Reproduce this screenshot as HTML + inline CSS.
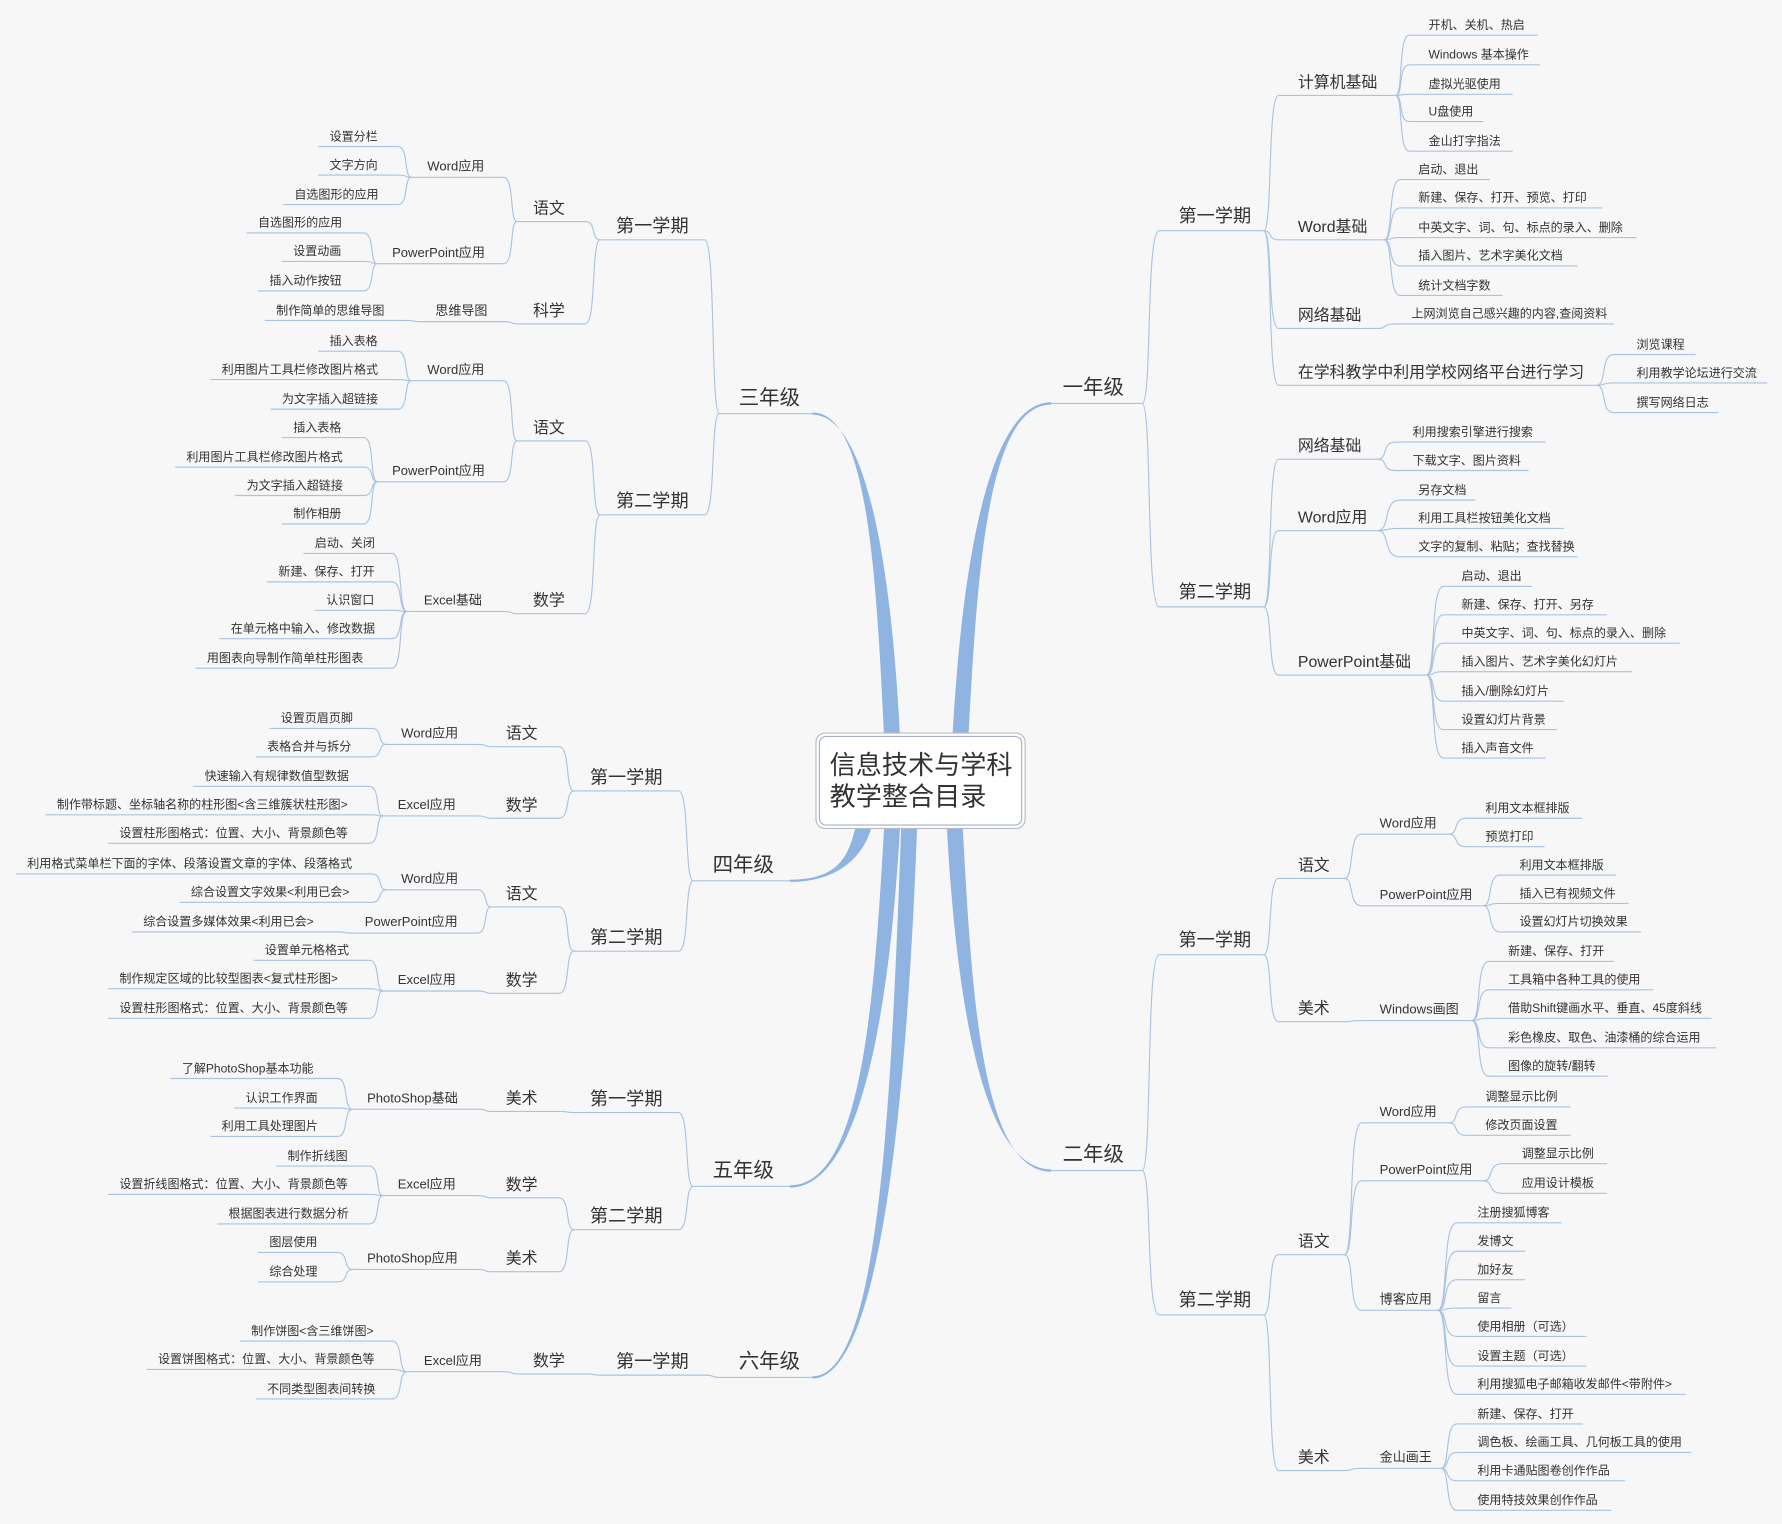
<!DOCTYPE html>
<html><head><meta charset="utf-8"><style>
html,body{margin:0;padding:0;background:#f7f7f7}
svg{display:block}
text{font-family:"Liberation Sans","Noto Sans CJK SC",sans-serif;fill:#333;dominant-baseline:central}
.t0{font-size:23px}.t1{font-size:18px}.t2{font-size:16px}.t3{font-size:14px}.t4{font-size:11.5px}.t5{font-size:10.6px}
.l path{fill:none;stroke:#a9c3e2;stroke-width:1}
</style></head><body>
<svg width="1782" height="1524" viewBox="0 0 1568 1341" xmlns="http://www.w3.org/2000/svg">
<rect width="1568" height="1341" fill="#f7f7f7"/>
<g fill="#8fb4e2">
<path d="M838,650 C846,502 869,354 925,354 L925,356 C869,356 860,502 852,650Z"/>
<path d="M833,725 C841,877 864,1029 925,1029 L925,1031 C864,1031 855,877 847,725Z"/>
<path d="M778,650 C771,507 764,363 715,363 L715,365 C764,365 785,507 792,650Z"/>
<path d="M753,727 C747,751 740,774 695,774 L695,776 C740,776 761,751 767,727Z"/>
<path d="M778,727 C769,885 758,1043 695,1043 L695,1045 C758,1045 783,885 792,727Z"/>
<path d="M793,727 C784,970 774,1211 715,1211 L715,1213 C774,1213 798,970 807,727Z"/>
</g>
<g class="l">
<path d="M925,355 H1005 M633,364 H715 M610,775 H695 M610,1044 H695 M633,1212 H715 M925,1030 H1005"/>
<path d="M1005,355 C1014,355 1008,203 1020,203 H1112"/>
<path d="M1005,355 C1014,355 1008,534 1020,534 H1112"/>
<path d="M1112,203 C1120,203 1115,84 1125,84 H1228"/>
<path d="M1112,203 C1120,203 1115,211 1125,211 H1218"/>
<path d="M1112,203 C1120,203 1115,289 1125,289 H1212"/>
<path d="M1112,203 C1120,203 1115,339 1125,339 H1405"/>
<path d="M1228,84 C1235,84 1230,31 1240,31 H1353"/>
<path d="M1228,84 C1235,84 1230,57 1240,57 H1355"/>
<path d="M1228,84 C1235,84 1230,83 1240,83 H1331"/>
<path d="M1228,84 C1235,84 1230,107 1240,107 H1305"/>
<path d="M1228,84 C1235,84 1230,133 1240,133 H1331"/>
<path d="M1218,211 C1226,211 1221,158 1232,158 H1311"/>
<path d="M1218,211 C1226,211 1221,183 1232,183 H1410"/>
<path d="M1218,211 C1226,211 1221,209 1232,209 H1440"/>
<path d="M1218,211 C1226,211 1221,234 1232,234 H1388"/>
<path d="M1218,211 C1226,211 1221,260 1232,260 H1322"/>
<path d="M1212,289 C1222,289 1215,285 1228,285 H1420"/>
<path d="M1405,339 C1414,339 1408,312 1420,312 H1492"/>
<path d="M1405,339 C1414,339 1408,337 1420,337 H1555"/>
<path d="M1405,339 C1414,339 1408,363 1420,363 H1512"/>
<path d="M1112,534 C1120,534 1115,404 1125,404 H1212"/>
<path d="M1112,534 C1120,534 1115,467 1125,467 H1212"/>
<path d="M1112,534 C1120,534 1115,594 1125,594 H1255"/>
<path d="M1212,404 C1222,404 1215,389 1228,389 H1360"/>
<path d="M1212,404 C1222,404 1215,414 1228,414 H1345"/>
<path d="M1212,467 C1224,467 1216,440 1232,440 H1298"/>
<path d="M1212,467 C1224,467 1216,465 1232,465 H1376"/>
<path d="M1212,467 C1224,467 1216,490 1232,490 H1388"/>
<path d="M1255,594 C1264,594 1258,516 1270,516 H1348"/>
<path d="M1255,594 C1264,594 1258,541 1270,541 H1414"/>
<path d="M1255,594 C1264,594 1258,566 1270,566 H1478"/>
<path d="M1255,594 C1264,594 1258,591 1270,591 H1436"/>
<path d="M1255,594 C1264,594 1258,617 1270,617 H1376"/>
<path d="M1255,594 C1264,594 1258,642 1270,642 H1370"/>
<path d="M1255,594 C1264,594 1258,667 1270,667 H1360"/>
<path d="M1005,1030 C1014,1030 1008,840 1020,840 H1112"/>
<path d="M1005,1030 C1014,1030 1008,1157 1020,1157 H1112"/>
<path d="M1112,840 C1120,840 1115,773 1125,773 H1183"/>
<path d="M1112,840 C1120,840 1115,899 1125,899 H1183"/>
<path d="M1183,773 C1192,773 1186,734 1198,734 H1275"/>
<path d="M1183,773 C1192,773 1186,797 1198,797 H1305"/>
<path d="M1275,734 C1284,734 1278,720 1290,720 H1392"/>
<path d="M1275,734 C1284,734 1278,745 1290,745 H1359"/>
<path d="M1305,797 C1314,797 1308,770 1320,770 H1422"/>
<path d="M1305,797 C1314,797 1308,795 1320,795 H1433"/>
<path d="M1305,797 C1314,797 1308,820 1320,820 H1444"/>
<path d="M1183,899 C1192,899 1186,898 1198,898 H1295"/>
<path d="M1295,898 C1304,898 1298,846 1310,846 H1420"/>
<path d="M1295,898 C1304,898 1298,871 1310,871 H1455"/>
<path d="M1295,898 C1304,898 1298,896 1310,896 H1506"/>
<path d="M1295,898 C1304,898 1298,922 1310,922 H1510"/>
<path d="M1295,898 C1304,898 1298,947 1310,947 H1415"/>
<path d="M1112,1157 C1120,1157 1115,1104 1125,1104 H1183"/>
<path d="M1112,1157 C1120,1157 1115,1294 1125,1294 H1183"/>
<path d="M1183,1104 C1192,1104 1186,988 1198,988 H1275"/>
<path d="M1183,1104 C1192,1104 1186,1039 1198,1039 H1305"/>
<path d="M1183,1104 C1192,1104 1186,1153 1198,1153 H1265"/>
<path d="M1275,988 C1284,988 1278,974 1290,974 H1382"/>
<path d="M1275,988 C1284,988 1278,999 1290,999 H1382"/>
<path d="M1305,1039 C1315,1039 1308,1024 1322,1024 H1414"/>
<path d="M1305,1039 C1315,1039 1308,1050 1322,1050 H1414"/>
<path d="M1265,1153 C1275,1153 1268,1076 1282,1076 H1374"/>
<path d="M1265,1153 C1275,1153 1268,1101 1282,1101 H1342"/>
<path d="M1265,1153 C1275,1153 1268,1126 1282,1126 H1342"/>
<path d="M1265,1153 C1275,1153 1268,1151 1282,1151 H1330"/>
<path d="M1265,1153 C1275,1153 1268,1176 1282,1176 H1396"/>
<path d="M1265,1153 C1275,1153 1268,1202 1282,1202 H1396"/>
<path d="M1265,1153 C1275,1153 1268,1227 1282,1227 H1483"/>
<path d="M1183,1294 C1192,1294 1186,1292 1198,1292 H1268"/>
<path d="M1268,1292 C1276,1292 1271,1253 1282,1253 H1393"/>
<path d="M1268,1292 C1276,1292 1271,1278 1282,1278 H1488"/>
<path d="M1268,1292 C1276,1292 1271,1303 1282,1303 H1430"/>
<path d="M1268,1292 C1276,1292 1271,1329 1282,1329 H1418"/>
<path d="M633,364 C625,364 630,211 620,211 H528"/>
<path d="M633,364 C625,364 630,453 620,453 H528"/>
<path d="M528,211 C520,211 525,195 515,195 H455"/>
<path d="M528,211 C520,211 525,285 515,285 H455"/>
<path d="M455,195 C448,195 453,156 443,156 H362"/>
<path d="M455,195 C448,195 453,232 443,232 H332"/>
<path d="M362,156 C355,156 360,129 350,129 H280"/>
<path d="M362,156 C355,156 360,154 350,154 H280"/>
<path d="M362,156 C355,156 360,180 350,180 H249"/>
<path d="M332,232 C325,232 330,205 320,205 H217"/>
<path d="M332,232 C325,232 330,230 320,230 H248"/>
<path d="M332,232 C325,232 330,256 320,256 H227"/>
<path d="M455,285 C448,285 453,283 443,283 H370"/>
<path d="M370,283 C361,283 367,282 355,282 H233"/>
<path d="M528,453 C520,453 525,388 515,388 H455"/>
<path d="M528,453 C520,453 525,540 515,540 H455"/>
<path d="M455,388 C448,388 453,335 443,335 H362"/>
<path d="M455,388 C448,388 453,424 443,424 H332"/>
<path d="M362,335 C355,335 360,309 350,309 H280"/>
<path d="M362,335 C355,335 360,334 350,334 H185"/>
<path d="M362,335 C355,335 360,360 350,360 H238"/>
<path d="M332,424 C325,424 330,385 320,385 H248"/>
<path d="M332,424 C325,424 330,411 320,411 H154"/>
<path d="M332,424 C325,424 330,436 320,436 H207"/>
<path d="M332,424 C325,424 330,461 320,461 H248"/>
<path d="M455,540 C448,540 453,538 443,538 H358"/>
<path d="M358,538 C350,538 355,487 345,487 H267"/>
<path d="M358,538 C350,538 355,512 345,512 H235"/>
<path d="M358,538 C350,538 355,537 345,537 H277"/>
<path d="M358,538 C350,538 355,562 345,562 H193"/>
<path d="M358,538 C350,538 355,588 345,588 H172"/>
<path d="M610,775 C602,775 607,696 597,696 H505"/>
<path d="M610,775 C602,775 607,837 597,837 H505"/>
<path d="M505,696 C497,696 502,657 492,657 H432"/>
<path d="M505,696 C497,696 502,720 492,720 H432"/>
<path d="M432,657 C425,657 430,655 420,655 H340"/>
<path d="M340,655 C332,655 337,641 327,641 H237"/>
<path d="M340,655 C332,655 337,666 327,666 H225"/>
<path d="M432,720 C425,720 430,718 420,718 H337"/>
<path d="M337,718 C330,718 335,692 325,692 H170"/>
<path d="M337,718 C330,718 335,717 325,717 H40"/>
<path d="M337,718 C330,718 335,742 325,742 H95"/>
<path d="M505,837 C497,837 502,798 492,798 H432"/>
<path d="M505,837 C497,837 502,874 492,874 H432"/>
<path d="M432,798 C425,798 430,783 420,783 H340"/>
<path d="M432,798 C425,798 430,821 420,821 H310"/>
<path d="M340,783 C332,783 337,769 327,769 H14"/>
<path d="M340,783 C332,783 337,794 327,794 H158"/>
<path d="M310,821 C301,821 307,820 295,820 H116"/>
<path d="M432,874 C425,874 430,872 420,872 H337"/>
<path d="M337,872 C330,872 335,845 325,845 H223"/>
<path d="M337,872 C330,872 335,870 325,870 H95"/>
<path d="M337,872 C330,872 335,896 325,896 H95"/>
<path d="M610,1044 C602,1044 607,979 597,979 H505"/>
<path d="M610,1044 C602,1044 607,1082 597,1082 H505"/>
<path d="M505,979 C497,979 502,978 492,978 H432"/>
<path d="M432,978 C425,978 430,976 420,976 H310"/>
<path d="M310,976 C302,976 307,949 297,949 H150"/>
<path d="M310,976 C302,976 307,975 297,975 H206"/>
<path d="M310,976 C302,976 307,1000 297,1000 H185"/>
<path d="M505,1082 C497,1082 502,1054 492,1054 H432"/>
<path d="M505,1082 C497,1082 502,1119 492,1119 H432"/>
<path d="M432,1054 C425,1054 430,1052 420,1052 H337"/>
<path d="M337,1052 C330,1052 335,1026 325,1026 H243"/>
<path d="M337,1052 C330,1052 335,1051 325,1051 H95"/>
<path d="M337,1052 C330,1052 335,1077 325,1077 H191"/>
<path d="M432,1119 C425,1119 430,1117 420,1117 H310"/>
<path d="M310,1117 C302,1117 307,1102 297,1102 H227"/>
<path d="M310,1117 C302,1117 307,1128 297,1128 H227"/>
<path d="M633,1212 C625,1212 630,1210 620,1210 H528"/>
<path d="M528,1210 C520,1210 525,1209 515,1209 H455"/>
<path d="M455,1209 C448,1209 453,1207 443,1207 H358"/>
<path d="M358,1207 C350,1207 355,1180 345,1180 H211"/>
<path d="M358,1207 C350,1207 355,1205 345,1205 H129"/>
<path d="M358,1207 C350,1207 355,1231 345,1231 H225"/>
</g>
<rect x="718" y="645" width="184" height="84" rx="8" fill="#fff" stroke="#b4bccb" stroke-width="1"/>
<rect x="721" y="648" width="178" height="78" rx="6" fill="#fff" stroke="#a7b0c2" stroke-width="1"/>
<text class="t0" x="730" y="673">信息技术与学科</text>
<text class="t0" x="730" y="701">教学整合目录</text>
<text class="t1" x="935" y="341">一年级</text>
<text class="t1" x="935" y="1016">二年级</text>
<text class="t1" x="650" y="350">三年级</text>
<text class="t1" x="627" y="761">四年级</text>
<text class="t1" x="627" y="1030">五年级</text>
<text class="t1" x="650" y="1198">六年级</text>
<text class="t2" x="1037" y="190">第一学期</text>
<text class="t2" x="1037" y="521">第二学期</text>
<text class="t2" x="1037" y="827">第一学期</text>
<text class="t2" x="1037" y="1144">第二学期</text>
<text class="t2" x="542" y="199">第一学期</text>
<text class="t2" x="542" y="441">第二学期</text>
<text class="t2" x="519" y="684">第一学期</text>
<text class="t2" x="519" y="825">第二学期</text>
<text class="t2" x="519" y="967">第一学期</text>
<text class="t2" x="519" y="1070">第二学期</text>
<text class="t2" x="542" y="1198">第一学期</text>
<text class="t3" x="1142" y="73">计算机基础</text>
<text class="t3" x="1142" y="200">Word基础</text>
<text class="t3" x="1142" y="278">网络基础</text>
<text class="t3" x="1142" y="328">在学科教学中利用学校网络平台进行学习</text>
<text class="t3" x="1142" y="393">网络基础</text>
<text class="t3" x="1142" y="456">Word应用</text>
<text class="t3" x="1142" y="583">PowerPoint基础</text>
<text class="t3" x="1142" y="762">语文</text>
<text class="t3" x="1142" y="888">美术</text>
<text class="t3" x="1142" y="1093">语文</text>
<text class="t3" x="1142" y="1283">美术</text>
<text class="t4" x="1214" y="724">Word应用</text>
<text class="t4" x="1214" y="787">PowerPoint应用</text>
<text class="t4" x="1214" y="888">Windows画图</text>
<text class="t4" x="1214" y="978">Word应用</text>
<text class="t4" x="1214" y="1029">PowerPoint应用</text>
<text class="t4" x="1214" y="1143">博客应用</text>
<text class="t4" x="1214" y="1282">金山画王</text>
<text class="t5" x="1257" y="22">开机、关机、热启</text>
<text class="t5" x="1257" y="48">Windows 基本操作</text>
<text class="t5" x="1257" y="74">虚拟光驱使用</text>
<text class="t5" x="1257" y="98">U盘使用</text>
<text class="t5" x="1257" y="124">金山打字指法</text>
<text class="t5" x="1248" y="149">启动、退出</text>
<text class="t5" x="1248" y="174">新建、保存、打开、预览、打印</text>
<text class="t5" x="1248" y="200">中英文字、词、句、标点的录入、删除</text>
<text class="t5" x="1248" y="225">插入图片、艺术字美化文档</text>
<text class="t5" x="1248" y="251">统计文档字数</text>
<text class="t5" x="1242" y="276">上网浏览自己感兴趣的内容,查阅资料</text>
<text class="t5" x="1440" y="303">浏览课程</text>
<text class="t5" x="1440" y="328">利用教学论坛进行交流</text>
<text class="t5" x="1440" y="354">撰写网络日志</text>
<text class="t5" x="1243" y="380">利用搜索引擎进行搜索</text>
<text class="t5" x="1243" y="405">下载文字、图片资料</text>
<text class="t5" x="1248" y="431">另存文档</text>
<text class="t5" x="1248" y="456">利用工具栏按钮美化文档</text>
<text class="t5" x="1248" y="481">文字的复制、粘贴；查找替换</text>
<text class="t5" x="1286" y="507">启动、退出</text>
<text class="t5" x="1286" y="532">新建、保存、打开、另存</text>
<text class="t5" x="1286" y="557">中英文字、词、句、标点的录入、删除</text>
<text class="t5" x="1286" y="582">插入图片、艺术字美化幻灯片</text>
<text class="t5" x="1286" y="608">插入/删除幻灯片</text>
<text class="t5" x="1286" y="633">设置幻灯片背景</text>
<text class="t5" x="1286" y="658">插入声音文件</text>
<text class="t5" x="1307" y="711">利用文本框排版</text>
<text class="t5" x="1307" y="736">预览打印</text>
<text class="t5" x="1337" y="761">利用文本框排版</text>
<text class="t5" x="1337" y="786">插入已有视频文件</text>
<text class="t5" x="1337" y="811">设置幻灯片切换效果</text>
<text class="t5" x="1327" y="837">新建、保存、打开</text>
<text class="t5" x="1327" y="862">工具箱中各种工具的使用</text>
<text class="t5" x="1327" y="887">借助Shift键画水平、垂直、45度斜线</text>
<text class="t5" x="1327" y="913">彩色橡皮、取色、油漆桶的综合运用</text>
<text class="t5" x="1327" y="938">图像的旋转/翻转</text>
<text class="t5" x="1307" y="965">调整显示比例</text>
<text class="t5" x="1307" y="990">修改页面设置</text>
<text class="t5" x="1339" y="1015">调整显示比例</text>
<text class="t5" x="1339" y="1041">应用设计模板</text>
<text class="t5" x="1300" y="1067">注册搜狐博客</text>
<text class="t5" x="1300" y="1092">发博文</text>
<text class="t5" x="1300" y="1117">加好友</text>
<text class="t5" x="1300" y="1142">留言</text>
<text class="t5" x="1300" y="1167">使用相册（可选）</text>
<text class="t5" x="1300" y="1193">设置主题（可选）</text>
<text class="t5" x="1300" y="1218">利用搜狐电子邮箱收发邮件&lt;带附件&gt;</text>
<text class="t5" x="1300" y="1244">新建、保存、打开</text>
<text class="t5" x="1300" y="1269">调色板、绘画工具、几何板工具的使用</text>
<text class="t5" x="1300" y="1294">利用卡通贴图卷创作作品</text>
<text class="t5" x="1300" y="1320">使用特技效果创作作品</text>
<text class="t3" x="469" y="184">语文</text>
<text class="t3" x="469" y="274">科学</text>
<text class="t3" x="469" y="377">语文</text>
<text class="t3" x="469" y="529">数学</text>
<text class="t3" x="445" y="646">语文</text>
<text class="t3" x="445" y="709">数学</text>
<text class="t3" x="445" y="787">语文</text>
<text class="t3" x="445" y="863">数学</text>
<text class="t3" x="445" y="967">美术</text>
<text class="t3" x="445" y="1043">数学</text>
<text class="t3" x="445" y="1108">美术</text>
<text class="t3" x="469" y="1198">数学</text>
<text class="t4" x="376" y="146">Word应用</text>
<text class="t4" x="345" y="222">PowerPoint应用</text>
<text class="t4" x="383" y="273">思维导图</text>
<text class="t4" x="376" y="325">Word应用</text>
<text class="t4" x="345" y="414">PowerPoint应用</text>
<text class="t4" x="373" y="528">Excel基础</text>
<text class="t4" x="353" y="645">Word应用</text>
<text class="t4" x="350" y="708">Excel应用</text>
<text class="t4" x="353" y="773">Word应用</text>
<text class="t4" x="321" y="811">PowerPoint应用</text>
<text class="t4" x="350" y="862">Excel应用</text>
<text class="t4" x="323" y="966">PhotoShop基础</text>
<text class="t4" x="350" y="1042">Excel应用</text>
<text class="t4" x="323" y="1107">PhotoShop应用</text>
<text class="t4" x="373" y="1197">Excel应用</text>
<text class="t5" x="290" y="120">设置分栏</text>
<text class="t5" x="290" y="145">文字方向</text>
<text class="t5" x="259" y="171">自选图形的应用</text>
<text class="t5" x="227" y="196">自选图形的应用</text>
<text class="t5" x="258" y="221">设置动画</text>
<text class="t5" x="237" y="247">插入动作按钮</text>
<text class="t5" x="243" y="273">制作简单的思维导图</text>
<text class="t5" x="290" y="300">插入表格</text>
<text class="t5" x="195" y="325">利用图片工具栏修改图片格式</text>
<text class="t5" x="248" y="351">为文字插入超链接</text>
<text class="t5" x="258" y="376">插入表格</text>
<text class="t5" x="164" y="402">利用图片工具栏修改图片格式</text>
<text class="t5" x="217" y="427">为文字插入超链接</text>
<text class="t5" x="258" y="452">制作相册</text>
<text class="t5" x="277" y="478">启动、关闭</text>
<text class="t5" x="245" y="503">新建、保存、打开</text>
<text class="t5" x="287" y="528">认识窗口</text>
<text class="t5" x="203" y="553">在单元格中输入、修改数据</text>
<text class="t5" x="182" y="579">用图表向导制作简单柱形图表</text>
<text class="t5" x="247" y="632">设置页眉页脚</text>
<text class="t5" x="235" y="657">表格合并与拆分</text>
<text class="t5" x="180" y="683">快速输入有规律数值型数据</text>
<text class="t5" x="50" y="708">制作带标题、坐标轴名称的柱形图&lt;含三维簇状柱形图&gt;</text>
<text class="t5" x="105" y="733">设置柱形图格式：位置、大小、背景颜色等</text>
<text class="t5" x="24" y="760">利用格式菜单栏下面的字体、段落设置文章的字体、段落格式</text>
<text class="t5" x="168" y="785">综合设置文字效果&lt;利用已会&gt;</text>
<text class="t5" x="126" y="811">综合设置多媒体效果&lt;利用已会&gt;</text>
<text class="t5" x="233" y="836">设置单元格格式</text>
<text class="t5" x="105" y="861">制作规定区域的比较型图表&lt;复式柱形图&gt;</text>
<text class="t5" x="105" y="887">设置柱形图格式：位置、大小、背景颜色等</text>
<text class="t5" x="160" y="940">了解PhotoShop基本功能</text>
<text class="t5" x="216" y="966">认识工作界面</text>
<text class="t5" x="195" y="991">利用工具处理图片</text>
<text class="t5" x="253" y="1017">制作折线图</text>
<text class="t5" x="105" y="1042">设置折线图格式：位置、大小、背景颜色等</text>
<text class="t5" x="201" y="1068">根据图表进行数据分析</text>
<text class="t5" x="237" y="1093">图层使用</text>
<text class="t5" x="237" y="1119">综合处理</text>
<text class="t5" x="221" y="1171">制作饼图&lt;含三维饼图&gt;</text>
<text class="t5" x="139" y="1196">设置饼图格式：位置、大小、背景颜色等</text>
<text class="t5" x="235" y="1222">不同类型图表间转换</text>
</svg>
</body></html>
